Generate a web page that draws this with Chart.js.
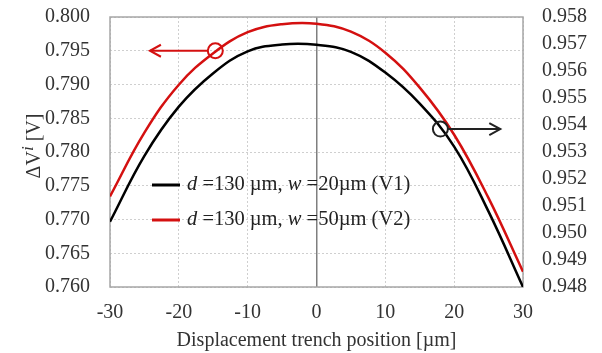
<!DOCTYPE html>
<html>
<head>
<meta charset="utf-8">
<script src="https://cdn.jsdelivr.net/npm/chart.js@4.4.1/dist/chart.umd.min.js"></script>
<style>
  html, body { margin: 0; padding: 0; background: #fff; }
</style>
</head>
<body>
<canvas id="chart" width="602" height="353"></canvas>
<script>
// displacement trench position [µm]
const positions = [-30, -25, -20, -15, -10, -5, 0, 5, 10, 15, 20, 25, 30];
// V1: d = 130 µm, w = 20 µm (right axis)
const v1Values = [0.95042, 0.95286, 0.95468, 0.95592, 0.95673, 0.95698, 0.95697, 0.95671, 0.95594, 0.95479, 0.95320, 0.95079, 0.94800];
// V2: d = 130 µm, w = 50 µm (left axis)
const v2Values = [0.77342, 0.78286, 0.78997, 0.79464, 0.79775, 0.79893, 0.79901, 0.79782, 0.79471, 0.78953, 0.78256, 0.77316, 0.76227];

const xRange = [-30, 30, 10];
const leftRange = [0.760, 0.800, 0.005];
const rightRange = [0.948, 0.958, 0.001];

// circled points with arrows pointing to the axis each curve belongs to
const v2Marker = { x: -14.7, y: 0.795, tipX: -24.2 };
const v1Marker = { x: 18, y: 0.95385, tipX: 26.7 };

const RED = '#d41010';
const BLACK = '#000000';
const TEXT = '#333333';
const FONT = 'Liberation Serif';

const legendRows = [
  { color: BLACK, parts: [['d', true], [' =130 \u00b5m, ', false], ['w', true], [' =20\u00b5m (V1)', false]] },
  { color: RED,   parts: [['d', true], [' =130 \u00b5m, ', false], ['w', true], [' =50\u00b5m (V2)', false]] }
];

function fontOf(size, italic) {
  return (italic ? 'italic ' : '') + size + 'px "' + FONT + '"';
}

function arrowHead(ctx, x, y, dir) {
  ctx.beginPath();
  ctx.moveTo(x - dir * 11, y - 6);
  ctx.lineTo(x, y);
  ctx.lineTo(x - dir * 11, y + 6);
  ctx.stroke();
}

// keep the plot box fixed: no extra room reserved for half-height tick labels
function fixVertical(width) {
  return s => { s.width = width; s.paddingTop = 0; s.paddingBottom = 0; };
}

const decorations = {
  id: 'decorations',
  beforeDatasetsDraw(chart) {
    const { ctx, chartArea: a } = chart;
    ctx.save();
    ctx.strokeStyle = '#a6a6a6';
    ctx.lineWidth = 1.5;
    ctx.strokeRect(a.left, a.top, a.right - a.left, a.bottom - a.top);
    ctx.restore();
  },
  afterDatasetsDraw(chart) {
    const { ctx, chartArea: a, scales } = chart;
    const xs = scales.x;
    ctx.save();
    ctx.lineWidth = 2;

    // V2 marker -> left axis
    let cx = xs.getPixelForValue(v2Marker.x), cy = scales.y.getPixelForValue(v2Marker.y);
    let tx = xs.getPixelForValue(v2Marker.tipX);
    ctx.strokeStyle = RED;
    ctx.beginPath(); ctx.arc(cx, cy, 7.5, 0, Math.PI * 2); ctx.stroke();
    ctx.beginPath(); ctx.moveTo(cx - 7.5, cy); ctx.lineTo(tx, cy); ctx.stroke();
    arrowHead(ctx, tx, cy, -1);

    // V1 marker -> right axis
    cx = xs.getPixelForValue(v1Marker.x); cy = scales.y2.getPixelForValue(v1Marker.y);
    tx = xs.getPixelForValue(v1Marker.tipX);
    ctx.strokeStyle = '#222';
    ctx.beginPath(); ctx.arc(cx, cy, 7.5, 0, Math.PI * 2); ctx.stroke();
    ctx.beginPath(); ctx.moveTo(cx + 7.5, cy); ctx.lineTo(tx, cy); ctx.stroke();
    arrowHead(ctx, tx, cy, 1);

    // legend
    ctx.textBaseline = 'middle';
    ctx.fillStyle = '#222';
    legendRows.forEach((row, i) => {
      const y = a.top + 168 + i * 35;
      const x0 = a.left + 42;
      ctx.strokeStyle = row.color;
      ctx.lineWidth = 3;
      ctx.beginPath(); ctx.moveTo(x0, y); ctx.lineTo(x0 + 28, y); ctx.stroke();
      let x = x0 + 35;
      row.parts.forEach(([t, it]) => {
        ctx.font = fontOf(20.5, it);
        ctx.fillText(t, x, y);
        x += ctx.measureText(t).width;
      });
    });

    // left axis title: ΔV^i [V]
    ctx.save();
    ctx.translate(40, 146);
    ctx.rotate(-Math.PI / 2);
    ctx.fillStyle = TEXT;
    ctx.textBaseline = 'alphabetic';
    const parts = [['\u0394V', 20, false, 0], ['i', 17, true, -7], [' [V]', 20, false, 0]];
    let w = 0;
    parts.forEach(p => { ctx.font = fontOf(p[1], p[2]); w += ctx.measureText(p[0]).width; });
    let x = -w / 2;
    parts.forEach(p => {
      ctx.font = fontOf(p[1], p[2]);
      ctx.fillText(p[0], x, p[3]);
      x += ctx.measureText(p[0]).width;
    });
    ctx.restore();
    ctx.restore();
  }
};

const tickFont = { family: FONT, size: 20 };

new Chart(document.getElementById('chart'), {
  type: 'line',
  data: {
    labels: positions,
    datasets: [
      { label: 'V1', data: positions.map((p, i) => ({ x: p, y: v1Values[i] })), yAxisID: 'y2',
        borderColor: BLACK, borderWidth: 2.5, tension: 0.4, pointRadius: 0, fill: false },
      { label: 'V2', data: positions.map((p, i) => ({ x: p, y: v2Values[i] })), yAxisID: 'y',
        borderColor: RED, borderWidth: 2.5, tension: 0.4, pointRadius: 0, fill: false }
    ]
  },
  options: {
    responsive: false,
    animation: false,
    layout: { padding: { top: 17, right: 0, bottom: 0, left: 0 } },
    plugins: { legend: { display: false }, tooltip: { enabled: false } },
    scales: {
      x: {
        type: 'linear', min: xRange[0], max: xRange[1],
        ticks: { stepSize: xRange[2], font: tickFont, color: TEXT, padding: 14 },
        grid: {
          drawTicks: false,
          color: c => (c.tick && c.tick.value === 0 ? '#7f7f7f' : '#cfcfcf'),
          lineWidth: c => (c.tick && c.tick.value === 0 ? 1.5 : 1)
        },
        border: { display: false, dash: c => (c.tick && c.tick.value === 0 ? [] : [2, 2]) },
        title: { display: true, text: 'Displacement trench position [\u00b5m]', font: tickFont, color: TEXT, padding: 0 },
        afterFit: s => { s.height = 66; }
      },
      y: {
        position: 'left', min: leftRange[0], max: leftRange[1],
        ticks: { stepSize: leftRange[2], font: tickFont, color: TEXT, padding: 20, autoSkip: false, callback: v => v.toFixed(3) },
        grid: { drawTicks: false, color: '#cfcfcf' },
        border: { display: false, dash: [2, 2] },
        afterFit: fixVertical(110)
      },
      y2: {
        position: 'right', min: rightRange[0], max: rightRange[1],
        ticks: { stepSize: rightRange[2], font: tickFont, color: TEXT, padding: 19, autoSkip: false, callback: v => v.toFixed(3) },
        grid: { display: false, drawTicks: false },
        border: { display: false },
        afterFit: fixVertical(79)
      }
    }
  },
  plugins: [decorations]
});
</script>
</body>
</html>
